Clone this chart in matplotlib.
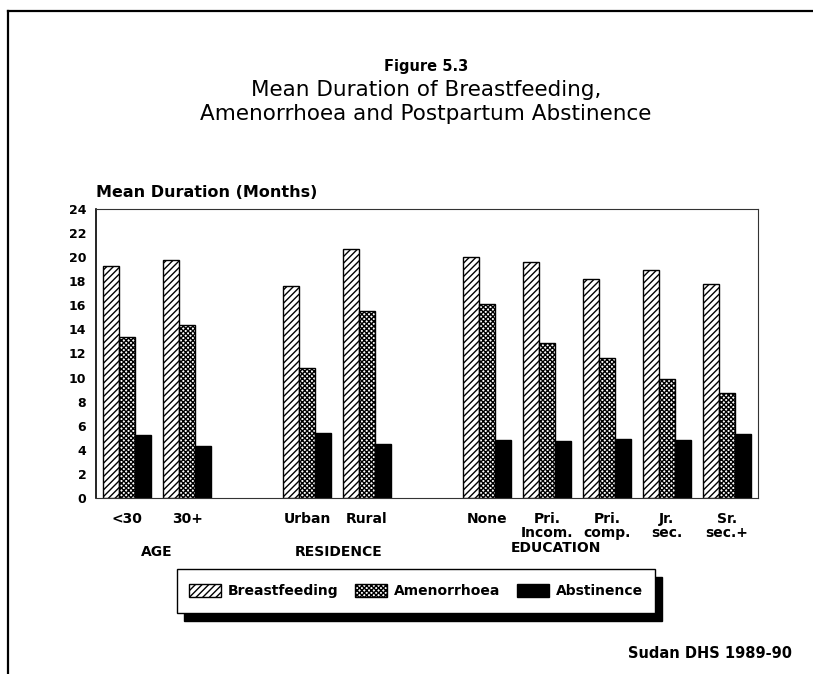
import matplotlib
matplotlib.use("Agg")
import matplotlib.pyplot as plt
from matplotlib.patches import Rectangle, Patch
from matplotlib.lines import Line2D

plt.rcParams['font.family'] = ['DejaVu Sans']
plt.rcParams['hatch.linewidth'] = 1.0

# data (months)
groups = ["AGE", "RESIDENCE", "EDUCATION"]
group_sizes = [2, 2, 5]
categories = ["<30", "30+", "Urban", "Rural", "None",
              "Pri.\nIncom.", "Pri.\ncomp.", "Jr.\nsec.", "Sr.\nsec.+"]
breastfeeding = [19.3, 19.8, 17.6, 20.7, 20.0, 19.6, 18.2, 18.9, 17.8]
amenorrhoea = [13.4, 14.4, 10.8, 15.5, 16.1, 12.9, 11.6, 9.9, 8.7]
abstinence = [5.2, 4.3, 5.4, 4.5, 4.8, 4.7, 4.9, 4.8, 5.3]
yticks = list(range(0, 25, 2))

# slot positions: one empty slot between groups
pos = []
slot = 0
for n in group_sizes:
    pos += [slot + i for i in range(n)]
    slot += n + 1

W, H = 813, 674
fig = plt.figure(figsize=(W / 100, H / 100), dpi=100)
ax = fig.add_axes([96 / W, 1 - 498 / H, (758 - 96) / W, (498 - 209) / H])

bw = 0.267
ax.bar([p - bw for p in pos], breastfeeding, bw, facecolor="white",
       edgecolor="black", hatch="/////", linewidth=1.0)
ax.bar(pos, amenorrhoea, bw, facecolor="white", edgecolor="black",
       hatch="xxxxxxx", linewidth=1.0)
ax.bar([p + bw for p in pos], abstinence, bw, facecolor="black",
       edgecolor="black", linewidth=1.0)

ax.set_xlim(-0.52, 10.52)
ax.set_ylim(0, 24)
ax.set_yticks(yticks)
ax.set_yticklabels([str(t) for t in yticks], fontsize=9, fontweight="bold")
ax.set_xticks(pos)
ax.set_xticklabels(categories, fontsize=10, fontweight="bold", linespacing=1.05)
ax.tick_params(length=0, pad=10)
ax.tick_params(axis="y", pad=7)
for s in ["top", "right", "bottom"]:
    ax.spines[s].set_linewidth(0.8)
    ax.spines[s].set_color("#333333")
ax.spines["left"].set_linewidth(1.2)

# group labels under the ticks
gx = [0.5, 3.52, 7.15]
gy = [-0.187, -0.187, -0.173]
for lab, x, y in zip(groups, gx, gy):
    ax.text(x, y, lab, transform=ax.get_xaxis_transform(), ha="center",
            va="center", fontsize=10, fontweight="bold")

fig.text(96 / W, 1 - 192 / H, "Mean Duration (Months)", fontsize=11.5,
         fontweight="bold", va="center", ha="left")

# titles
fig.text(426 / W, 1 - 67 / H, "Figure 5.3", ha="center", va="center",
         fontsize=10.5, fontweight="bold")
fig.text(426 / W, 1 - 90 / H, "Mean Duration of Breastfeeding,", ha="center",
         va="center", fontsize=15.5)
fig.text(426 / W, 1 - 114 / H, "Amenorrhoea and Postpartum Abstinence",
         ha="center", va="center", fontsize=15.5)

# legend box with solid shadow
bx0, by0, bx1, by1 = 177, 569, 655, 613
fig.add_artist(Rectangle(((bx0 + 7) / W, 1 - (by1 + 8) / H), (bx1 - bx0) / W,
                         (by1 - by0) / H, transform=fig.transFigure,
                         facecolor="black", edgecolor="black", zorder=1))
fig.add_artist(Rectangle((bx0 / W, 1 - by1 / H), (bx1 - bx0) / W,
                         (by1 - by0) / H, transform=fig.transFigure,
                         facecolor="white", edgecolor="black", linewidth=1.0,
                         zorder=2))
handles = [Patch(facecolor="white", edgecolor="black", hatch="/////"),
           Patch(facecolor="white", edgecolor="black", hatch="xxxxxxx"),
           Patch(facecolor="black", edgecolor="black")]
leg = fig.legend(handles, ["Breastfeeding", "Amenorrhoea", "Abstinence"],
                 loc="center", bbox_to_anchor=((bx0 + bx1) / 2 / W, 1 - (by0 + by1) / 2 / H),
                 ncol=3, frameon=False, handlelength=2.3, handleheight=1.1,
                 columnspacing=1.2, handletextpad=0.5,
                 prop={"size": 10, "weight": "bold"})
leg.set_zorder(3)

fig.text(792 / W, 1 - 653 / H, "Sudan DHS 1989-90", ha="right", va="center",
         fontsize=10.5, fontweight="bold")

# page frame
fig.add_artist(Line2D([8 / W, 1.0], [1 - 11 / H, 1 - 11 / H], color="black",
                      linewidth=1.6, transform=fig.transFigure))
fig.add_artist(Line2D([8 / W, 8 / W], [1 - 11 / H, 0.0], color="black",
                      linewidth=1.6, transform=fig.transFigure))

fig.savefig("out.png", dpi=100)
